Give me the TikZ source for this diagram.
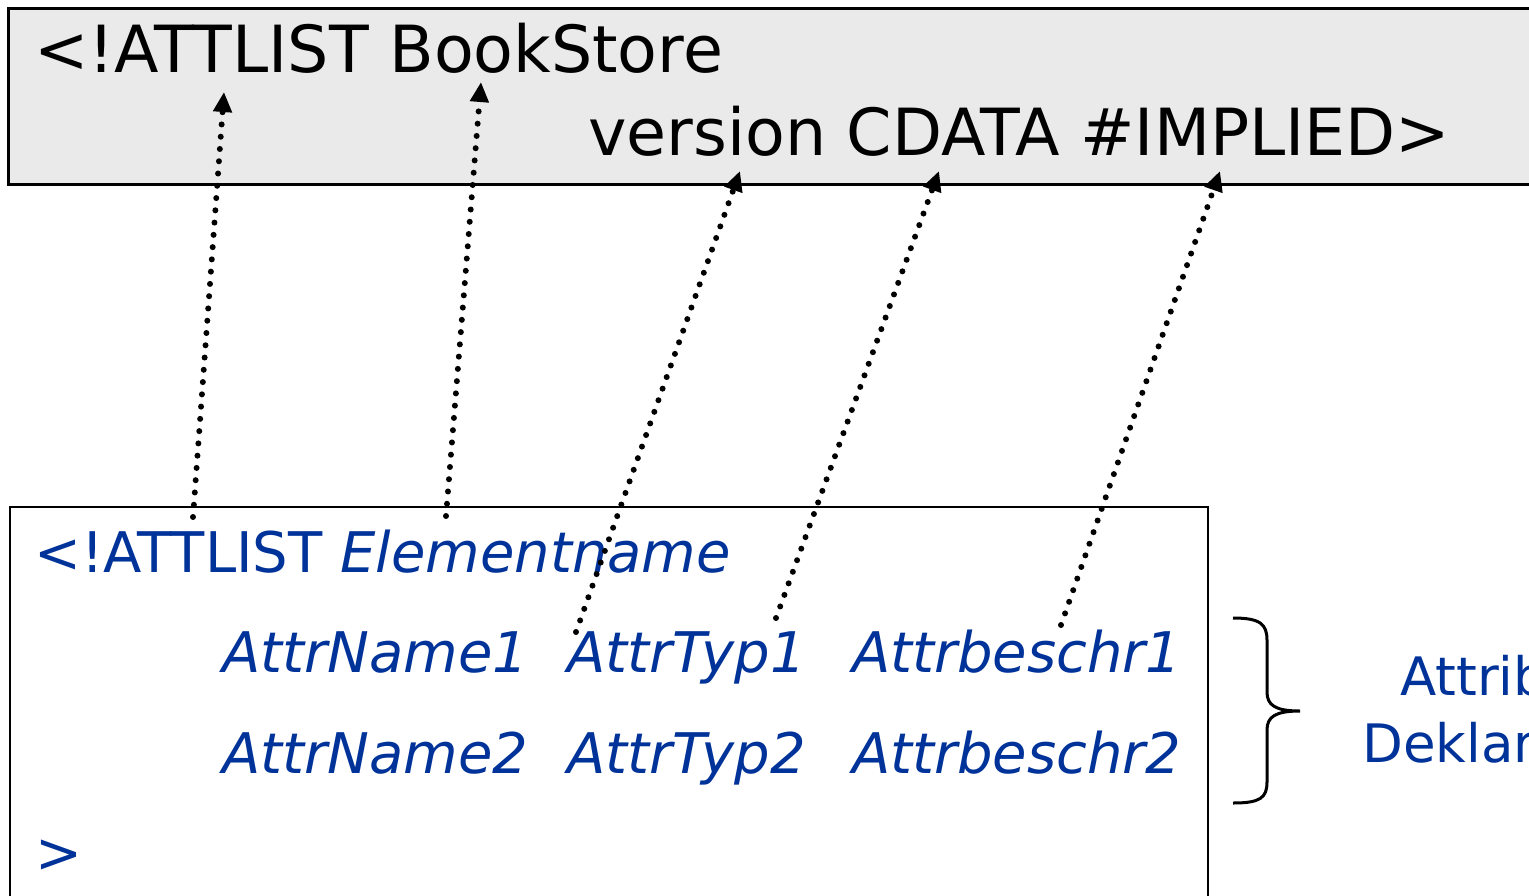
\documentclass[tikz,border=0pt]{standalone}
\usepackage{fontspec}
\setmainfont{DejaVu Sans}
\usetikzlibrary{arrows.meta}
\definecolor{declblue}{HTML}{003399}
\definecolor{boxgray}{HTML}{EAEAEA}

\begin{document}
\begin{tikzpicture}[x=1pt, y=-1pt,
  toptext/.style={font=\fontsize{65}{70}\selectfont, anchor=base west, inner sep=0pt},
  decltext/.style={font=\fontsize{56}{60}\selectfont, text=declblue, anchor=base west, inner sep=0pt},
  decl/.style={decltext, font=\fontsize{56}{60}\selectfont\itshape},
  notetext/.style={font=\fontsize{53}{60}\selectfont, text=declblue, anchor=base west, inner sep=0pt},
  pointer/.style={line width=6pt, line cap=round, dash pattern=on 0pt off 12.3pt,
                  -{Triangle[length=20pt, width=18pt]}},
]
\useasboundingbox (0,0) rectangle (1529,895);
\begin{scope}
\clip (0,0) rectangle (1529,895);

% example declaration (grey box)
\draw[line width=3pt, fill=boxgray] (8,8) rectangle (1550,184);
\node[toptext] (head)  at (34,72)   {<!ATTLIST BookStore};
\node[toptext] (attr)  at (588,155) {version CDATA \#IMPLIED>};

% general form (white box)
\draw[line width=2.8pt, fill=white] (10,507) rectangle (1208,920);
\node[decltext] (open) at (34,572) {<!ATTLIST \textit{Elementname}};
\node[decl] (nameA) at (222,672) {AttrName1};
\node[decl] (typA)  at (567,672) {AttrTyp1};
\node[decl] (descA) at (852,672) {Attrbeschr1};
\node[decl] (nameB) at (222,773) {AttrName2};
\node[decl] (typB)  at (567,773) {AttrTyp2};
\node[decl] (descB) at (852,773) {Attrbeschr2};
\node[decltext] (close) at (35,872) {>};

% brace and its label
\draw[line width=3pt] (1233,618) .. controls (1260,618) and (1267,624) .. (1267,640)
  -- (1267,692) .. controls (1267,705) and (1275,711) .. (1300,711)
  .. controls (1275,711) and (1267,717) .. (1267,730)
  -- (1267,782) .. controls (1267,798) and (1260,803) .. (1233,803);
\node[notetext] (noteA) at (1400,695) {Attribut-};
\node[notetext] (noteB) at (1362,762) {Deklaration};

% pointers from the general form to the example
\coordinate (kwFoot)   at (193,517);
\coordinate (kwHead)   at (224,92);
\coordinate (elFoot)   at (446,516);
\coordinate (elHead)   at (481,82);
\coordinate (nmFoot)   at (576,632);
\coordinate (nmHead)   at (740,171);
\coordinate (tyFoot)   at (776,618);
\coordinate (tyHead)   at (939,171);
\coordinate (dsFoot)   at (1061,625);
\coordinate (dsHead)   at (1220,171);
\draw[pointer] (kwFoot) -- (kwHead);
\draw[pointer] (elFoot) -- (elHead);
\draw[pointer] (nmFoot) -- (nmHead);
\draw[pointer] (tyFoot) -- (tyHead);
\draw[pointer] (dsFoot) -- (dsHead);
\end{scope}
\end{tikzpicture}
\end{document}
